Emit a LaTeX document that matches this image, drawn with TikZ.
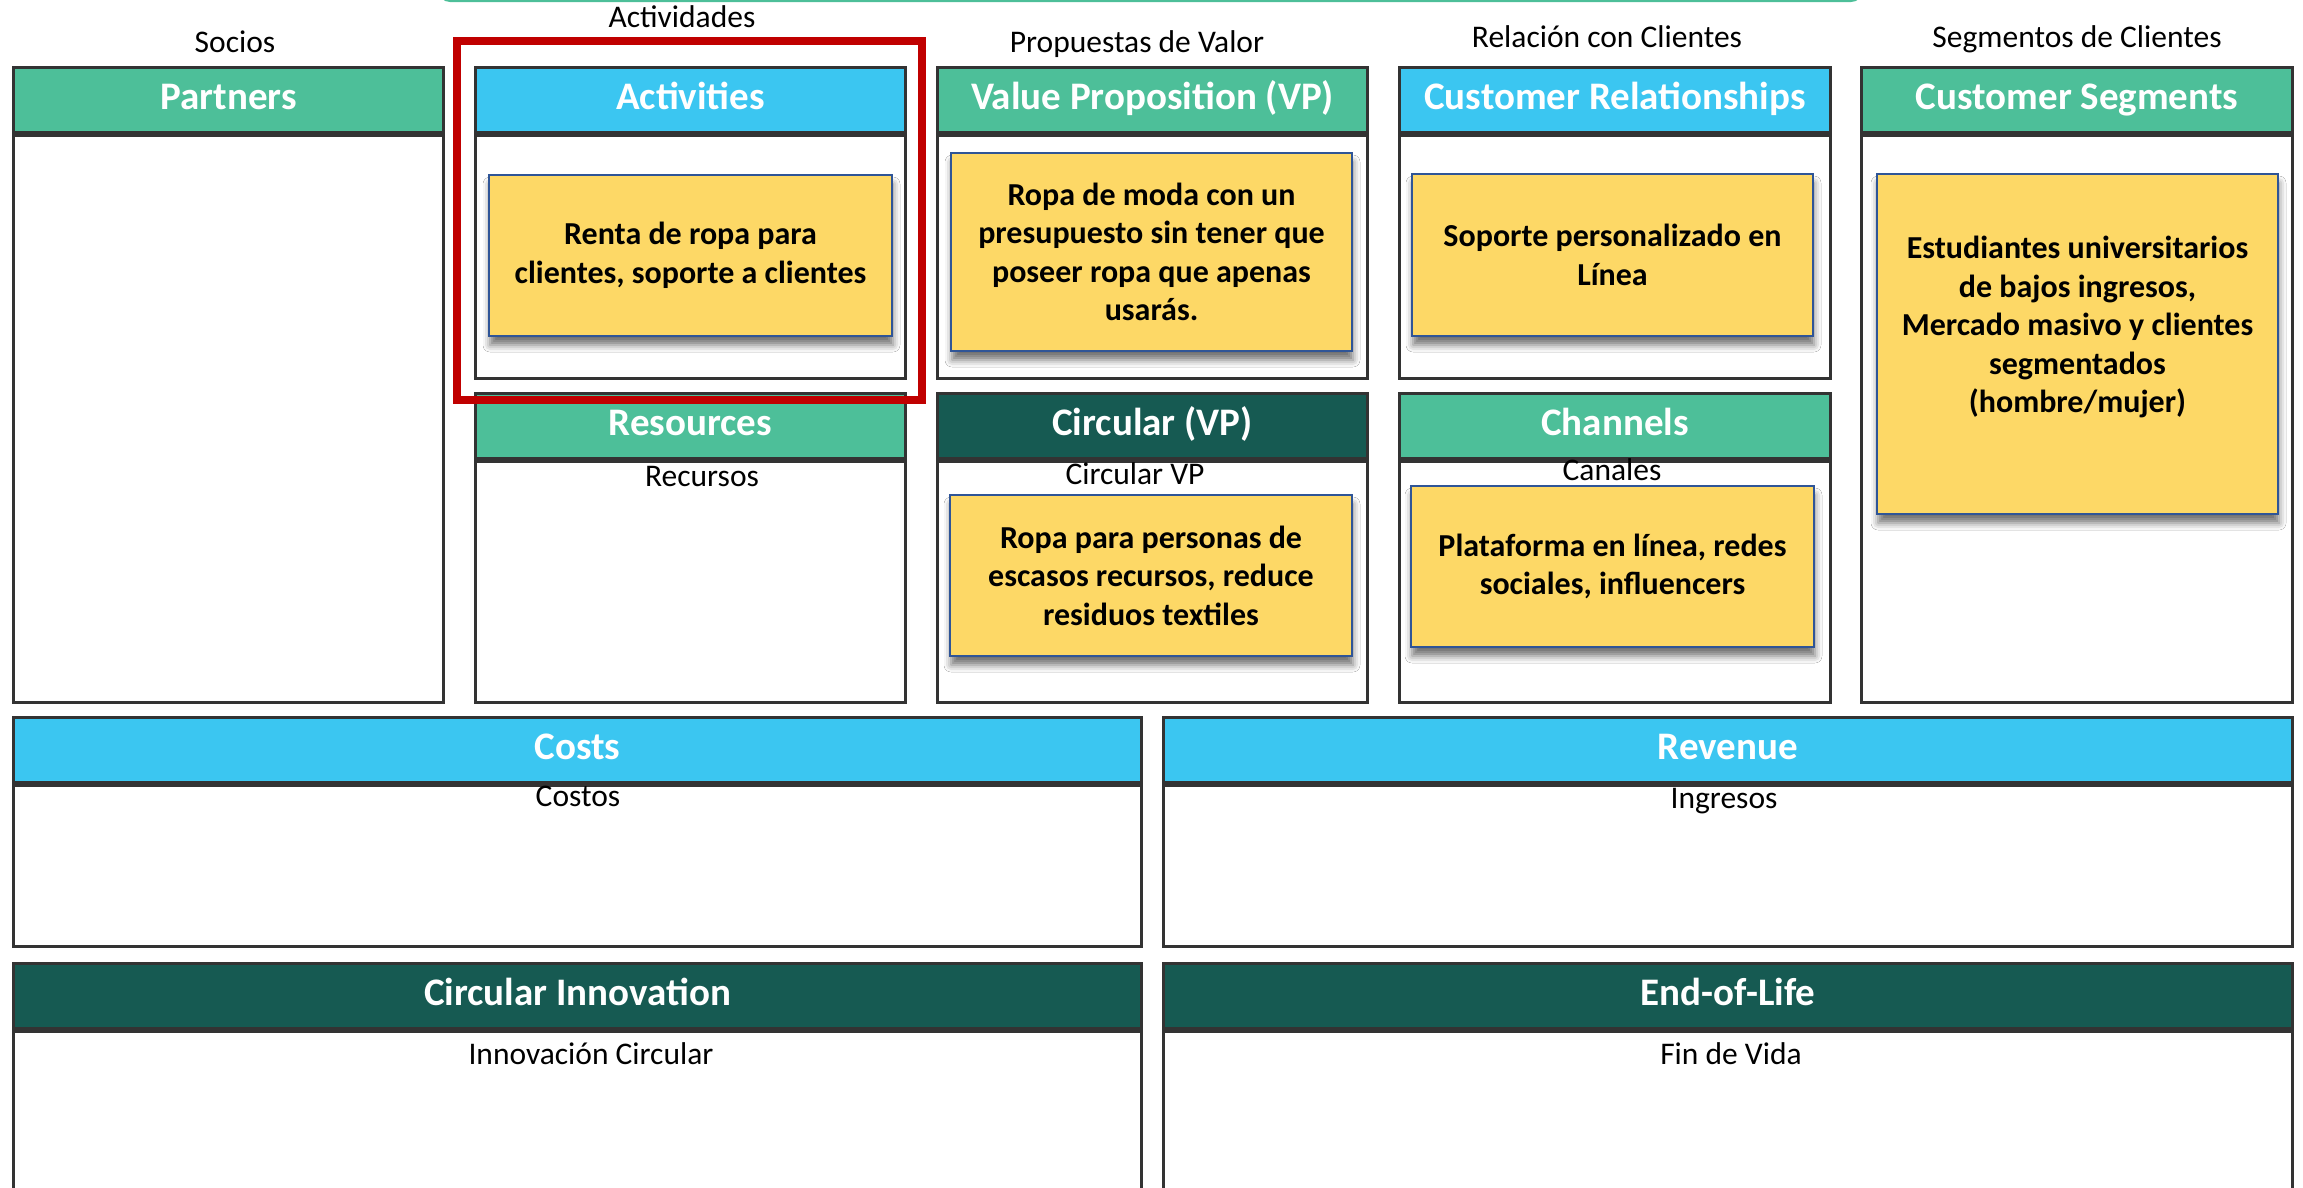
\documentclass[tikz,border=0pt]{standalone}
\usepackage{fontspec}
\setmainfont{Carlito}
\usepackage{xcolor}
\usetikzlibrary{positioning,shadows.blur}
\definecolor{hgreen}{HTML}{4DBF99}
\definecolor{hblue}{HTML}{3BC6F1}
\definecolor{hdark}{HTML}{165A52}
\definecolor{notefill}{HTML}{FDD866}
\definecolor{noteline}{HTML}{2F5597}
\definecolor{framered}{HTML}{C00000}

\begin{document}
\begin{tikzpicture}[x=1pt,y=-1pt]
	\tikzstyle{head}=[draw=black!80, line width=3pt, anchor=north west, minimum height=65pt, inner sep=0pt, text=white, font=\fontsize{39}{45}\selectfont\bfseries, text height=27pt, text depth=8pt]
	\tikzstyle{body}=[draw=black!80, line width=3pt, anchor=north west, fill=white, inner sep=0pt]
	\tikzstyle{capt}=[anchor=base, inner sep=0pt, font=\fontsize{31.5}{38}\selectfont]
	\tikzstyle{note}=[fill=notefill, draw=noteline, line width=2pt, align=center, inner sep=0pt, font=\fontsize{32}{38.5}\selectfont\bfseries, blur shadow={shadow xshift=1pt, shadow yshift=-9pt, shadow blur radius=7pt, shadow opacity=55}]
	\useasboundingbox (0,0) rectangle (2303,1187);
	\fill[hgreen, rounded corners=12pt] (438,-40) rectangle (1863,2);

		\node[head, fill=hgreen, minimum width=430pt] (partners-h) at (12,66) {Partners};
		\node[body, minimum width=430pt, minimum height=567pt] (partners) at (partners-h.south west) {};
		\node[head, fill=hblue, minimum width=430pt] (activities-h) at (474,66) {Activities};
		\node[body, minimum width=430pt, minimum height=243pt] (activities) at (activities-h.south west) {};
		\node[head, fill=hgreen, minimum width=430pt] (resources-h) at (474,392) {Resources};
		\node[body, minimum width=430pt, minimum height=241pt] (resources) at (resources-h.south west) {};
		\node[head, fill=hgreen, minimum width=430pt] (vp-h) at (936,66) {Value Proposition (VP)};
		\node[body, minimum width=430pt, minimum height=243pt] (vp) at (vp-h.south west) {};
		\node[head, fill=hdark, minimum width=430pt] (cvp-h) at (936,392) {Circular (VP)};
		\node[body, minimum width=430pt, minimum height=241pt] (cvp) at (cvp-h.south west) {};
		\node[head, fill=hblue, minimum width=431pt] (cr-h) at (1398,66) {Customer Relationships};
		\node[body, minimum width=431pt, minimum height=243pt] (cr) at (cr-h.south west) {};
		\node[head, fill=hgreen, minimum width=431pt] (channels-h) at (1398,392) {Channels};
		\node[body, minimum width=431pt, minimum height=241pt] (channels) at (channels-h.south west) {};
		\node[head, fill=hgreen, minimum width=431pt] (cs-h) at (1860,66) {Customer Segments};
		\node[body, minimum width=431pt, minimum height=567pt] (cs) at (cs-h.south west) {};

		\node[head, fill=hblue, minimum width=1128pt] (costs-h) at (12,716) {Costs};
		\node[body, minimum width=1128pt, minimum height=161pt] (costs) at (costs-h.south west) {};
		\node[head, fill=hblue, minimum width=1129pt] (revenue-h) at (1162,716) {Revenue};
		\node[body, minimum width=1129pt, minimum height=161pt] (revenue) at (revenue-h.south west) {};
		\node[head, fill=hdark, minimum width=1128pt] (ci-h) at (12,962) {Circular Innovation};
		\node[body, minimum width=1128pt, minimum height=240pt] (ci) at (ci-h.south west) {};
		\node[head, fill=hdark, minimum width=1129pt] (eol-h) at (1162,962) {End-of-Life};
		\node[body, minimum width=1129pt, minimum height=240pt] (eol) at (eol-h.south west) {};

		\node[capt] (socios) at (235,52) {Socios};
		\node[capt] (actividades) at (682,27) {Actividades};
		\node[capt] (propuestas) at (1137,52) {Propuestas de Valor};
		\node[capt] (relacion) at (1607,47) {Relación con Clientes};
		\node[capt] (segmentos) at (2077,47) {Segmentos de Clientes};
		\node[capt] (recursos) at (702,486) {Recursos};
		\node[capt] (circular) at (1135,484) {Circular VP};
		\node[capt] (canales) at (1612,480) {Canales};
		\node[capt] (costos) at (578,806) {Costos};
		\node[capt] (ingresos) at (1724,808) {Ingresos};
		\node[capt] (innovacion) at (591,1064) {Innovación Circular};
		\node[capt] (finvida) at (1731,1064) {Fin de Vida};

		\node[note, minimum width=403pt, minimum height=161pt] (act-note) at (690.5,255.5) {Renta de ropa para\\clientes, soporte a clientes};
		\node[note, minimum width=401pt, minimum height=198pt] (vp-note) at (1151.5,252) {Ropa de moda con un\\presupuesto sin tener que\\poseer ropa que apenas\\usarás.};
		\node[note, minimum width=401pt, minimum height=162pt] (cr-note) at (1612.5,255) {Soporte personalizado en\\Línea};
		\node[note, minimum width=401pt, minimum height=340pt] (cs-note) at (2077.5,344) {Estudiantes universitarios\\de bajos ingresos,\\Mercado masivo y clientes\\segmentados\\(hombre/mujer)\\\mbox{}};
		\node[note, minimum width=402pt, minimum height=161pt] (cvp-note) at (1151,575.5) {Ropa para personas de\\escasos recursos, reduce\\residuos textiles};
		\node[note, minimum width=403pt, minimum height=161pt] (ch-note) at (1612.5,566.5) {Plataforma en línea, redes\\sociales, influencers};

	\draw[framered, line width=7.5pt] (457,41) rectangle (922,400);
\end{tikzpicture}
\end{document}
